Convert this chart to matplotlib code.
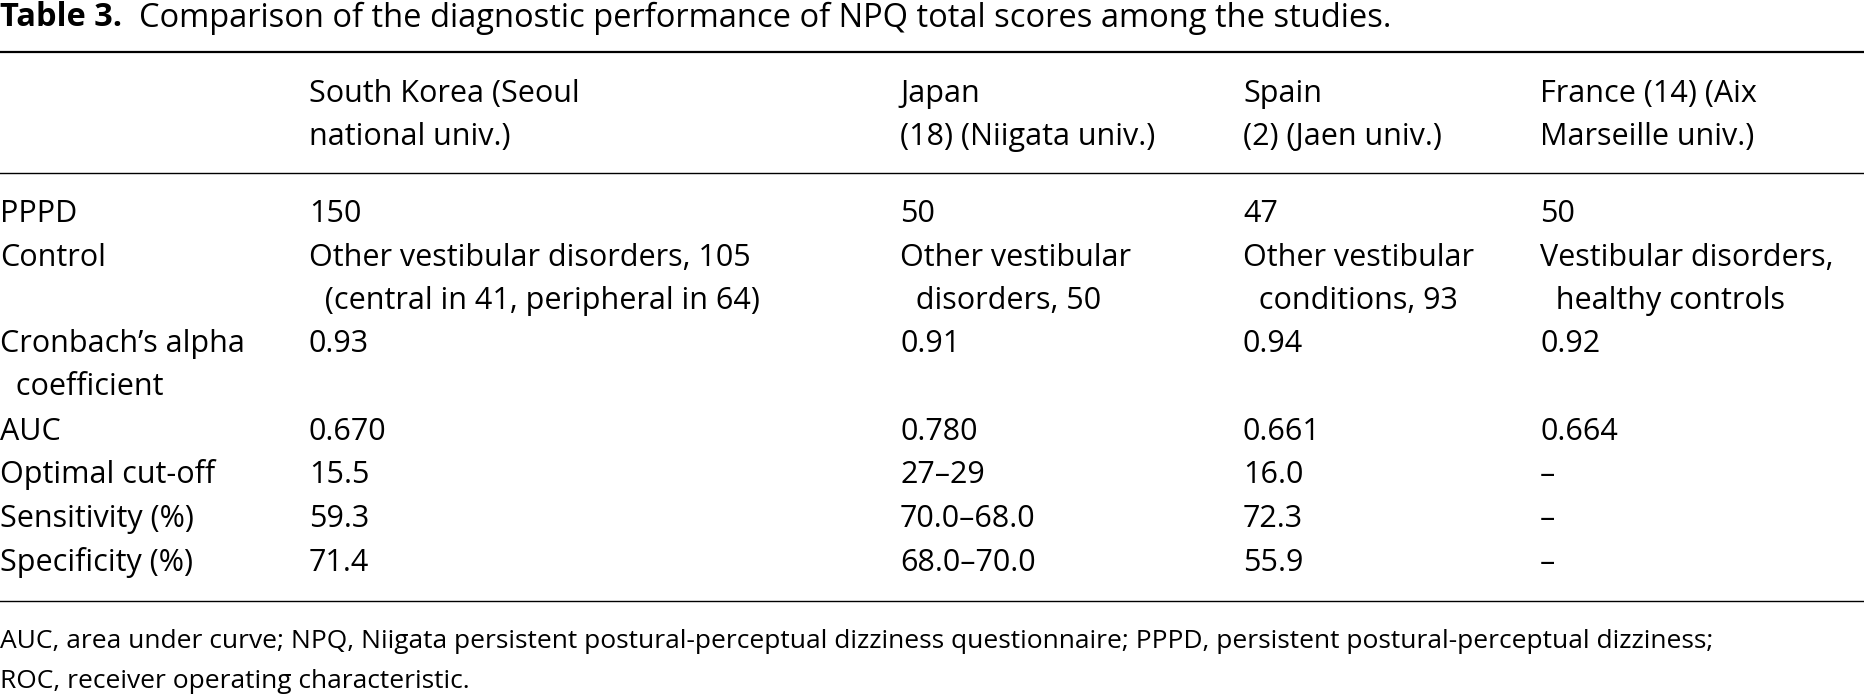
import matplotlib.pyplot as plt

plt.rcParams['font.family'] = ['Open Sans', 'DejaVu Sans']

title_bold = "Table 3."
title_rest = "  Comparison of the diagnostic performance of NPQ total scores among the studies."

headers = ["South Korea (Seoul\nnational univ.)", "Japan\n(18) (Niigata univ.)",
           "Spain\n(2) (Jaen univ.)", "France (14) (Aix\nMarseille univ.)"]
row_labels = ["PPPD", "Control", "Cronbach\u2019s alpha\n  coefficient", "AUC",
              "Optimal cut-off", "Sensitivity (%)", "Specificity (%)"]
korea = ["150", "Other vestibular disorders, 105\n  (central in 41, peripheral in 64)", "0.93",
         "0.670", "15.5", "59.3", "71.4"]
japan = ["50", "Other vestibular\n  disorders, 50", "0.91", "0.780", "27\u201329",
         "70.0\u201368.0", "68.0\u201370.0"]
spain = ["47", "Other vestibular\n  conditions, 93", "0.94", "0.661", "16.0", "72.3", "55.9"]
france = ["50", "Vestibular disorders,\n  healthy controls", "0.92", "0.664",
          "\u2013", "\u2013", "\u2013"]
footnote = ("AUC, area under curve; NPQ, Niigata persistent postural-perceptual dizziness questionnaire; "
            "PPPD, persistent postural-perceptual dizziness;\nROC, receiver operating characteristic.")

W, H = 1865, 699
fig = plt.figure(figsize=(W / 100, H / 100), dpi=100)
ax = fig.add_axes([0, 0, 1, 1])
ax.set_xlim(0, W)
ax.set_ylim(H, 0)
ax.axis('off')

fs = 22
pitch = 43
col_x = [0, 309, 900, 1243, 1540]


def put(x, y, s, size=fs, **kw):
    # one text line per call so line pitch matches the reference
    for i, line in enumerate(s.split("\n")):
        ax.text(x, y + i * pitch, line, fontsize=size, va='center', **kw)


t = ax.text(0, 18, title_bold, fontsize=23.5, fontweight='bold', va='center')
fig.canvas.draw()
bb = t.get_window_extent()
ax.text(bb.x1, 18, title_rest, fontsize=23.5, va='center')

ax.plot([0, W], [52, 52], color='black', lw=1.6)
ax.plot([0, W], [173, 173], color='black', lw=1)
ax.plot([0, W], [601, 601], color='black', lw=1)

for x, h in zip(col_x[1:], headers):
    put(x, 94, h)

row_y = [214, 258, 344, 432, 475, 519, 563]
cols = [row_labels, korea, japan, spain, france]
for x, col in zip(col_x, cols):
    for y, v in zip(row_y, col):
        put(x, y, v)

lines = footnote.split("\n")
ax.text(0, 642, lines[0], fontsize=19, va='center')
ax.text(0, 682, lines[1], fontsize=19, va='center')

fig.savefig("out.png", dpi=100)
